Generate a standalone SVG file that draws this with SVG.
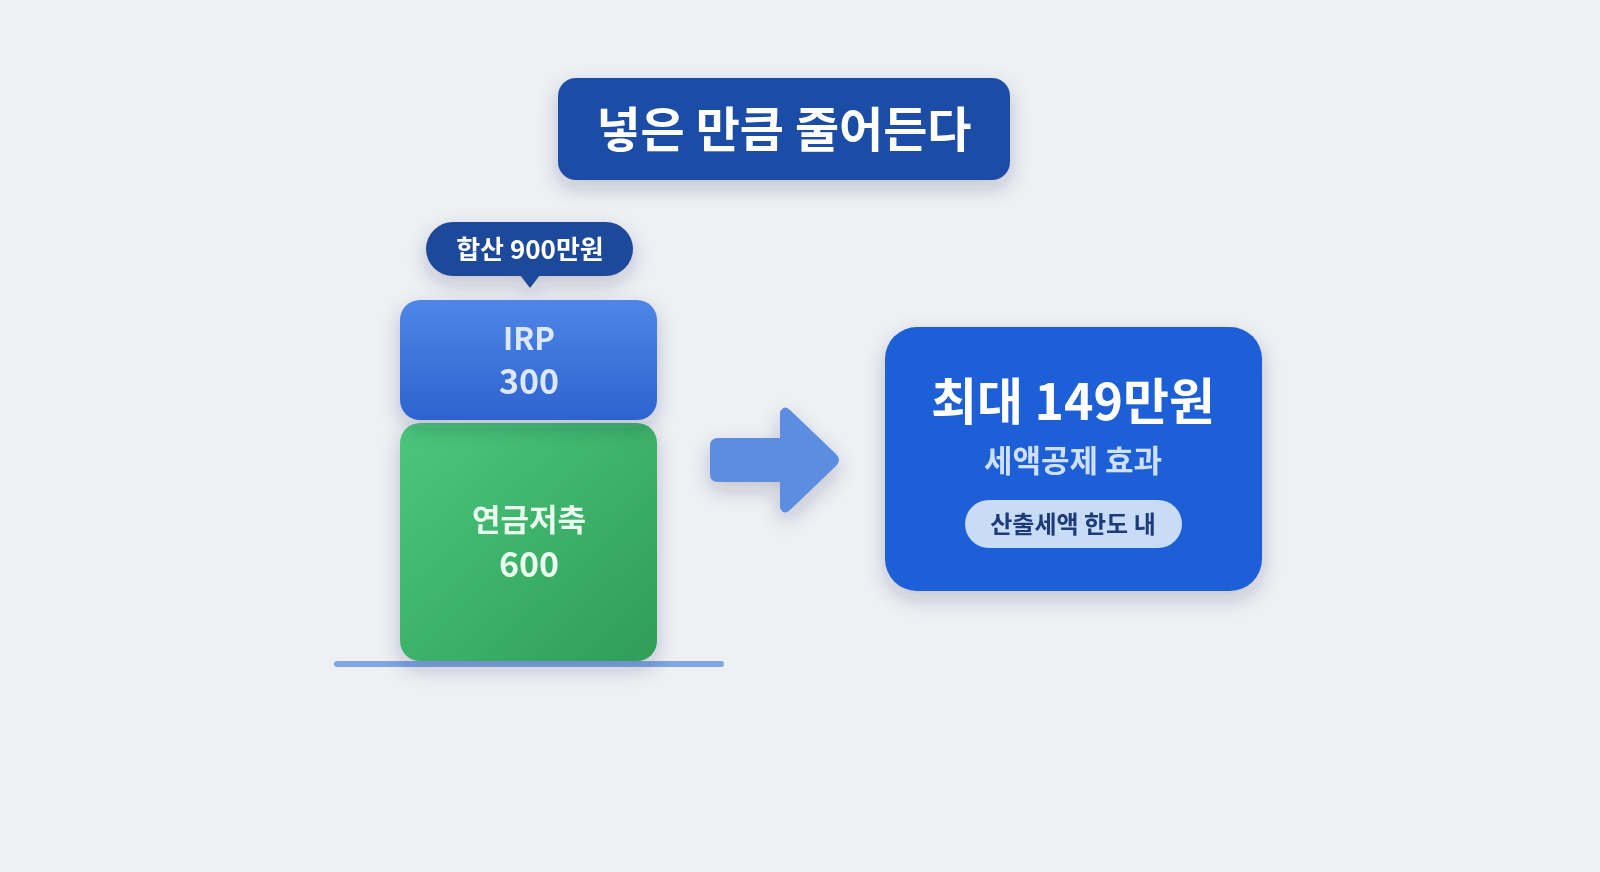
<svg xmlns="http://www.w3.org/2000/svg" width="1600" height="872" viewBox="0 0 1600 872">
<defs>
<style>
text{font-family:"Noto Sans CJK KR","Noto Sans",sans-serif;font-weight:700;text-anchor:middle}
</style>
<filter id="sh" x="-20%" y="-20%" width="140%" height="150%"><feDropShadow dx="0" dy="8" stdDeviation="10" flood-color="#1a2a50" flood-opacity="0.22"/></filter>
<linearGradient id="g1" x1="0" y1="0" x2="0" y2="1"><stop offset="0" stop-color="#4f86e6"/><stop offset="1" stop-color="#2d63cf"/></linearGradient>
<linearGradient id="g2" x1="0" y1="0" x2="1" y2="1"><stop offset="0" stop-color="#4cc77c"/><stop offset="1" stop-color="#2f9d58"/></linearGradient>
</defs>
<rect width="1600" height="872" fill="#eef0f4"/>
<g id="title" filter="url(#sh)"><rect x="558" y="78" width="452" height="102" rx="18" fill="#1f4ea6"/><text x="784" y="147" font-size="48" fill="#fff">넣은 만큼 줄어든다</text></g>
<g id="total" filter="url(#sh)"><rect x="426" y="222" width="207" height="54" rx="27" fill="#1e4a9a"/><path d="M520 275 L530 288 L540 275Z" fill="#1e4a9a"/><text x="530" y="259" font-size="26" fill="#fff">합산 900만원</text></g>
<g id="base"><rect x="334" y="661" width="390" height="6" rx="3" fill="#7ea6e4"/></g>
<g id="green" filter="url(#sh)"><rect x="400" y="423" width="257" height="238" rx="20" fill="url(#g2)"/><text x="529" y="531" font-size="31" fill="#eafff0">연금저축</text><text x="529" y="577" font-size="34" fill="#eafff0">600</text></g>
<g id="irp" filter="url(#sh)"><rect x="400" y="300" width="257" height="120" rx="20" fill="url(#g1)"/><text x="529" y="350" font-size="31" fill="#dce8ff">IRP</text><text x="529" y="394" font-size="34" fill="#dce8ff">300</text></g>
<g id="connectors"><path d="M718 438 H780 V412 Q784 404 790 410 L836 454 Q842 460 836 466 L790 510 Q784 516 780 508 V482 H718 Q710 482 710 474 V446 Q710 438 718 438Z" fill="#5b8de0" filter="url(#sh)"/></g>
<g id="result" filter="url(#sh)"><rect x="885" y="327" width="377" height="264" rx="32" fill="#1d5fd6"/><text x="1073" y="420" font-size="50" fill="#fff">최대 149만원</text><text x="1073" y="472" font-size="31" fill="#cfe0ff">세액공제 효과</text><rect x="965" y="500" width="217" height="48" rx="24" fill="#c9dcf7"/><text x="1073" y="533" font-size="24" fill="#1c3a78">산출세액 한도 내</text></g>
</svg>
